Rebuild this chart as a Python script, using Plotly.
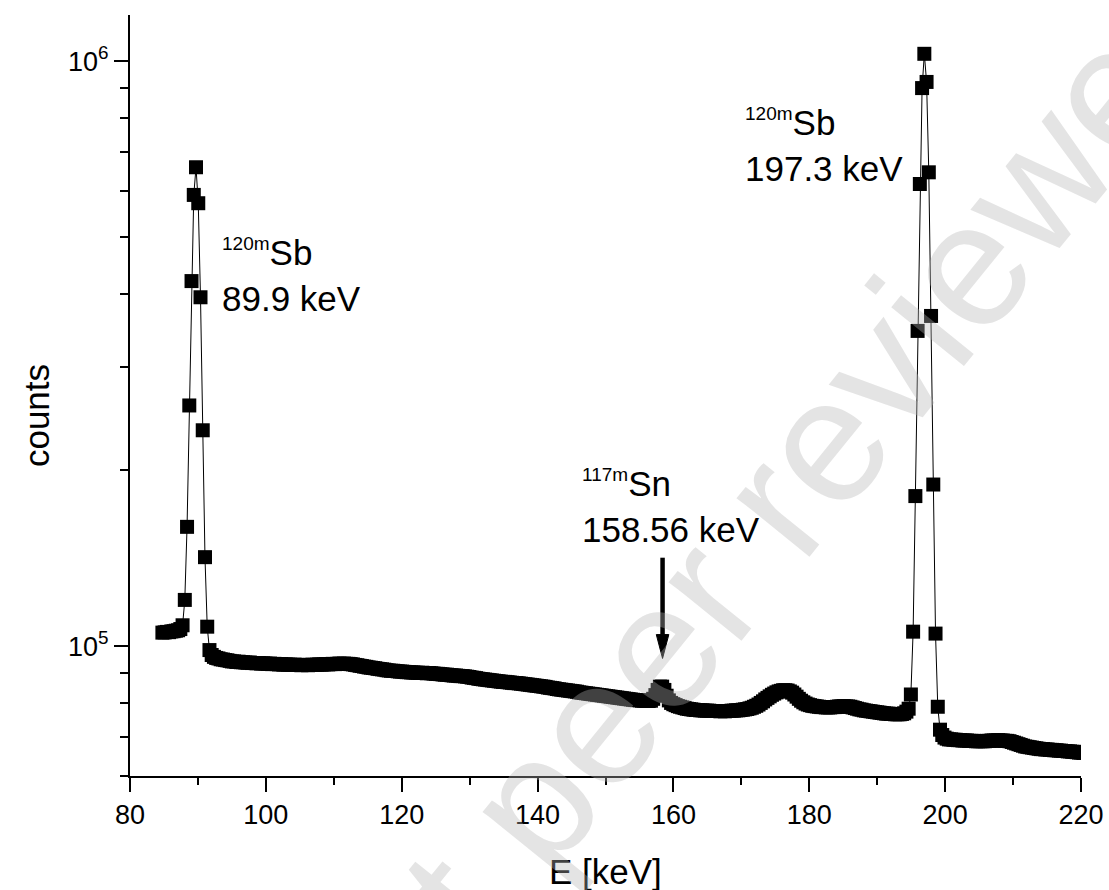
import plotly.graph_objects as go

# Gamma spectrum of an irradiated Sb target: counts per channel, 84.8-220.4 keV
# Energy calibration of the MCA channels
E0_KEV = 84.77
GAIN_KEV = 0.3299

COUNTS = [
    # ch 0-9 (continuum below the 89.9 keV line)
    105500, 105600, 105800, 105700, 106000, 106100, 106300, 106500, 107000, 108600,
    # ch 10-20 : 120mSb 89.9 keV line
    120000, 160000, 258000, 421000, 591000, 659000, 572000, 395000, 234000, 142000, 108000,
    # ch 21-218 : continuum
    98500, 96600, 95900, 95500, 95300, 95000, 94900, 94700, 94600, 94400,
    94200, 94200, 94000, 94100, 93900, 93900, 93800, 93700, 93800, 93600,
    93600, 93500, 93600, 93400, 93500, 93400, 93300, 93400, 93200, 93300,
    93200, 93100, 93200, 93000, 93100, 93000, 93000, 92900, 93000, 92900,
    92900, 92800, 92900, 92900, 92800, 92900, 93000, 92900, 93000, 93100,
    93000, 93100, 93200, 93100, 93200, 93300, 93200, 93300, 93400, 93300,
    93400, 93300, 93300, 93200, 93100, 92900, 92800, 92600, 92500, 92300,
    92200, 92000, 91900, 91800, 91700, 91500, 91400, 91300, 91200, 91000,
    90900, 90800, 90800, 90700, 90600, 90500, 90500, 90400, 90300, 90300,
    90200, 90200, 90100, 90100, 90000, 90100, 90000, 89900, 90000, 89900,
    89800, 89700, 89700, 89600, 89500, 89400, 89400, 89300, 89200, 89100,
    89100, 89000, 88900, 88900, 88800, 88700, 88600, 88400, 88300, 88200,
    88000, 87900, 87800, 87700, 87600, 87500, 87400, 87300, 87200, 87100,
    87000, 86900, 86900, 86800, 86700, 86600, 86500, 86500, 86400, 86300,
    86200, 86100, 86000, 85900, 85800, 85700, 85600, 85500, 85400, 85300,
    85200, 85000, 84900, 84800, 84700, 84500, 84400, 84300, 84200, 84100,
    84000, 83900, 83800, 83700, 83600, 83400, 83300, 83200, 83100, 83000,
    82900, 82800, 82700, 82600, 82500, 82400, 82300, 82200, 82100, 82000,
    81900, 81800, 81700, 81600, 81500, 81400, 81300, 81200, 81100, 81000,
    80900, 80900, 80800, 80700, 80700, 80600, 80600, 80700,
    # ch 219-227 : 117mSn 158.56 keV line
    81300, 82500, 84200, 85300, 85300, 84200, 82300, 80800, 80000,
    # ch 228-333 : continuum with the bump near 176 keV
    79600, 79300, 79000, 78800, 78600, 78400, 78200, 78100, 78000, 77900,
    77800, 77800, 77700, 77700, 77600, 77600, 77600, 77500, 77500, 77500,
    77500, 77400, 77500, 77400, 77500, 77500, 77600, 77600, 77700, 77700,
    77800, 77900, 78000, 78100, 78300, 78500, 78800, 79100, 79500, 80000,
    80500, 81100, 81600, 82100, 82600, 83000, 83400, 83700, 83900, 84100,
    84100, 84000, 83700, 83300, 82700, 82000, 81300, 80700, 80200, 79800,
    79500, 79300, 79100, 79000, 78900, 78800, 78700, 78700, 78600, 78600,
    78600, 78700, 78700, 78800, 78900, 78900, 79000, 78900, 78900, 78800,
    78600, 78400, 78200, 78000, 77900, 77700, 77600, 77500, 77400, 77300,
    77200, 77100, 77000, 76900, 76800, 76700, 76700, 76600, 76600, 76500,
    76500, 76500, 76600, 76800, 77300, 78200,
    # ch 334-346 : 120mSb 197.3 keV line
    82700, 105900, 180600, 346000, 617000, 900000, 1030000, 922000, 646000, 367000,
    189000, 105100, 78800,
    # ch 347-411 : continuum above the line
    72000, 70500, 69800, 69500, 69300, 69300, 69200, 69200, 69100, 69100,
    69000, 69000, 69000, 68900, 68900, 68900, 68800, 68800, 68800, 68800,
    68800, 68900, 68900, 69000, 69000, 69000, 69100, 69000, 69000, 68900,
    68900, 68800, 68600, 68400, 68200, 68000, 67800, 67600, 67400, 67300,
    67200, 67100, 67000, 66900, 66800, 66700, 66700, 66600, 66600, 66500,
    66500, 66400, 66400, 66300, 66300, 66200, 66200, 66100, 66100, 66000,
    66000, 65900, 65800, 65800, 65700,
]

ENERGY = [E0_KEV + GAIN_KEV * ch for ch in range(len(COUNTS))]

X_TICKS = [80, 100, 120, 140, 160, 180, 200, 220]
Y_TICKS = [1e5, 1e6]
Y_TICK_TEXT = ["10<sup>5</sup>", "10<sup>6</sup>"]
Y_MINOR = [6e4, 7e4, 8e4, 9e4, 2e5, 3e5, 4e5, 5e5, 6e5, 7e5, 8e5, 9e5]

# Sn line marker arrow (energy, tail / head-base / tip counts)
ARROW_E = 158.4
ARROW_TAIL, ARROW_BASE, ARROW_TIP = 141700, 104700, 95300
ARROW_HALF_W = 0.92

FONT = "Liberation Sans, Arial, sans-serif"

fig = go.Figure()

fig.add_trace(go.Scatter(
    x=ENERGY, y=COUNTS, mode="lines+markers",
    line=dict(color="black", width=1),
    marker=dict(symbol="square", size=14, color="black", line=dict(width=0)),
    hoverinfo="x+y", showlegend=False,
))

# arrow shaft and head
fig.add_trace(go.Scatter(
    x=[ARROW_E, ARROW_E], y=[ARROW_TAIL, ARROW_BASE], mode="lines",
    line=dict(color="black", width=4.5), hoverinfo="skip", showlegend=False,
))
fig.add_trace(go.Scatter(
    x=[ARROW_E - ARROW_HALF_W, ARROW_E + ARROW_HALF_W, ARROW_E, ARROW_E - ARROW_HALF_W],
    y=[ARROW_BASE, ARROW_BASE, ARROW_TIP, ARROW_BASE],
    mode="lines", fill="toself", fillcolor="black",
    line=dict(color="black", width=1), hoverinfo="skip", showlegend=False,
))

SUP = "<sup><span style='font-size:19px'>{}</span></sup>"

annotations = [
    dict(x=93.2, y=0.599, xref="x", yref="paper",
         text=SUP.format("120m") + "Sb<br>89.9 keV"),
    dict(x=170.25, y=0.770, xref="x", yref="paper",
         text=SUP.format("120m") + "Sb<br>197.3 keV"),
    dict(x=146.2, y=0.2957, xref="x", yref="paper",
         text=SUP.format("117m") + "Sn<br>158.56 keV"),
]
for a in annotations:
    a.update(xanchor="left", yanchor="bottom", align="left", showarrow=False,
             font=dict(family=FONT, size=35, color="black"))

# axis titles
annotations += [
    dict(x=0.5, y=-0.0972, xref="paper", yref="paper", text="E [keV]",
         xanchor="center", yanchor="top", showarrow=False,
         font=dict(family=FONT, size=35, color="black")),
    dict(x=-0.0988, y=0.473, xref="paper", yref="paper", text="counts",
         textangle=-90, xanchor="center", yanchor="middle", showarrow=False,
         font=dict(family=FONT, size=35, color="black")),
    # preprint watermark
    dict(x=0.660, y=0.331, xref="paper", yref="paper", text="not peer reviewed",
         textangle=-51, xanchor="center", yanchor="middle", showarrow=False,
         font=dict(family=FONT, size=177, color="rgba(180,180,180,0.36)")),
]

fig.update_layout(
    width=1109, height=890,
    margin=dict(l=130, r=28, t=15, b=114, autoexpand=False),
    paper_bgcolor="white", plot_bgcolor="white",
    font=dict(family=FONT, color="black"),
    annotations=annotations,
    xaxis=dict(
        range=[80, 220], tickvals=X_TICKS, ticks="outside", ticklen=14, tickwidth=2,
        tickcolor="black", showline=True, linewidth=2, linecolor="black",
        showgrid=False, zeroline=False, tickfont=dict(size=27, family=FONT),
        minor=dict(dtick=10, tick0=80, ticks="outside", ticklen=7, tickwidth=2,
                   tickcolor="black", showgrid=False),
    ),
    yaxis=dict(
        type="log", range=[4.77815, 6.07918], tickvals=Y_TICKS, ticktext=Y_TICK_TEXT,
        ticks="outside", ticklen=14, tickwidth=2, tickcolor="black",
        showline=True, linewidth=2, linecolor="black", showgrid=False, zeroline=False,
        tickfont=dict(size=27, family=FONT),
        minor=dict(tickvals=Y_MINOR, ticks="outside", ticklen=8, tickwidth=2,
                   tickcolor="black", showgrid=False),
    ),
)

fig.write_html("out.html")
